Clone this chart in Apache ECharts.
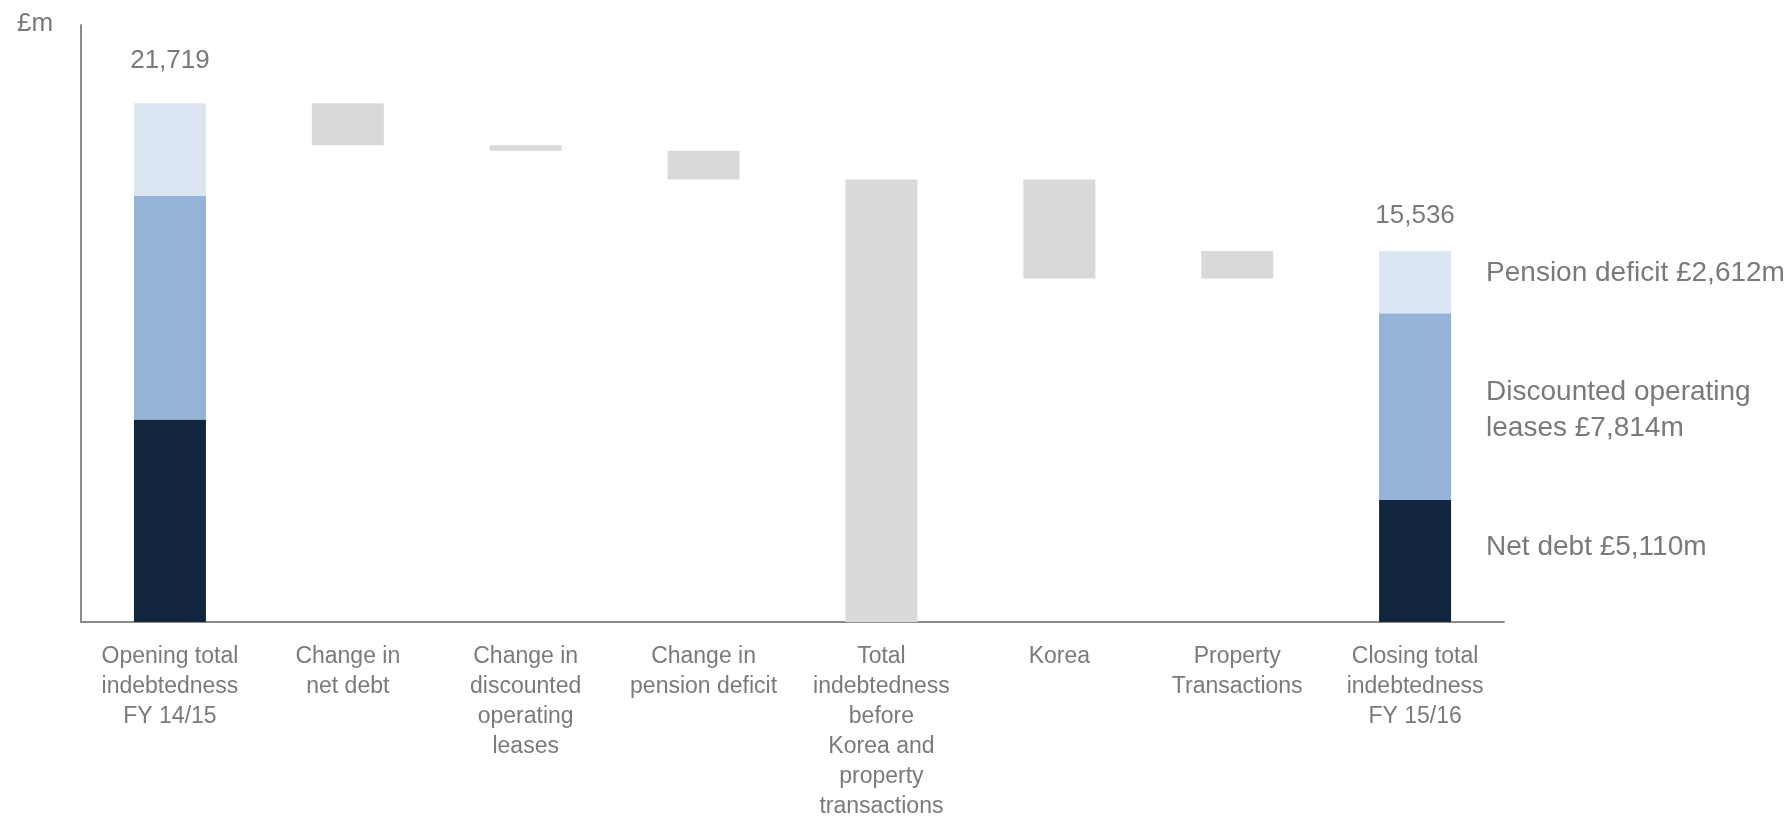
<!DOCTYPE html>
<html>
<head>
<meta charset="utf-8">
<title>Total indebtedness bridge</title>
<script src="https://cdn.jsdelivr.net/npm/echarts@6/dist/echarts.min.js"></script>
<style>
  html, body { margin: 0; padding: 0; background: #ffffff; }
  #chart { width: 1784px; height: 817px; }
</style>
</head>
<body>
<div id="chart"></div>
<script>
// Category labels along the x axis
const categories = [
  'Opening total\nindebtedness\nFY 14/15',
  'Change in\nnet debt',
  'Change in\ndiscounted\noperating\nleases',
  'Change in\npension deficit',
  'Total\nindebtedness\nbefore\nKorea and\nproperty\ntransactions',
  'Korea',
  'Property\nTransactions',
  'Closing total\nindebtedness\nFY 15/16'
];

// Components of the opening and closing totals (£m)
const netDebt = [8481, null, null, null, null, null, null, 5110];
const leases  = [9353, null, null, null, null, null, null, 7814];
const pension = [3885, null, null, null, null, null, null, 2612];

// Movements between the two totals (£m); 'subtotal' marks the running-total bar
const movements = [null, -1750, -230, -1209, 'subtotal', -4145, 1151, null];

// Labels for the closing components, shown beside the last bar
const componentNames = ['Pension deficit', 'Discounted operating\nleases', 'Net debt'];

const FONT = '"Liberation Sans", "Noto Sans", sans-serif';
const TEXT = '#7a7a7a';

// Build the invisible base and grey floating bars from the running total
const totals = categories.map((_, i) =>
  (netDebt[i] || 0) + (leases[i] || 0) + (pension[i] || 0));
const base = [];
const change = [];
let running = totals[0];
movements.forEach((m, i) => {
  if (m === null) { base.push(null); change.push(null); return; }
  if (m === 'subtotal') { base.push(0); change.push(running); return; }
  const next = running + m;
  base.push(Math.min(running, next));
  change.push(Math.abs(m));
  running = next;
});

const fmt = v => v.toLocaleString('en-GB');
const last = categories.length - 1;

const chart = echarts.init(document.getElementById('chart'), null, { renderer: 'canvas' });

// Component label placed to the right of its segment of the closing bar
function rightLabel(text, value, offsetY) {
  return {
    value: value,
    label: {
      show: true,
      position: ['100%', '50%'],
      offset: [35, offsetY],
      align: 'left',
      verticalAlign: 'middle',
      formatter: text + ' £' + fmt(value) + 'm',
      color: TEXT,
      fontFamily: FONT,
      fontSize: 28,
      lineHeight: 36
    }
  };
}

chart.setOption({
  animation: false,
  backgroundColor: '#ffffff',
  grid: {
    left: 81, right: 280, top: 25, bottom: 195,
    containLabel: false,
    outerBoundsMode: 'none'
  },
  xAxis: {
    type: 'category',
    data: categories,
    axisLine: { show: true, lineStyle: { color: '#8c8c8c', width: 2 } },
    axisTick: { show: false },
    axisLabel: {
      interval: 0,
      color: TEXT,
      fontFamily: FONT,
      fontSize: 23,
      lineHeight: 30,
      margin: 20
    }
  },
  yAxis: {
    type: 'value',
    min: 0,
    max: 25000,
    splitLine: { show: false },
    axisTick: { show: false },
    axisLabel: { show: false },
    axisLine: { show: true, lineStyle: { color: '#8c8c8c', width: 2 } }
  },
  graphic: [{
    type: 'text',
    left: 17,
    top: 11,
    style: { text: '£m', fill: TEXT, font: '26px ' + FONT }
  }],
  series: [
    {
      name: 'base', type: 'bar', stack: 'total', barWidth: 72,
      itemStyle: { color: 'rgba(0,0,0,0)' }, silent: true,
      data: base
    },
    {
      name: 'Net debt', type: 'bar', stack: 'total', barWidth: 72,
      itemStyle: { color: '#12253f' },
      data: netDebt.map((v, i) => i === last ? rightLabel(componentNames[2], v, -14) : v)
    },
    {
      name: 'Discounted operating leases', type: 'bar', stack: 'total', barWidth: 72,
      itemStyle: { color: '#95b3d7' },
      data: leases.map((v, i) => i === last ? rightLabel(componentNames[1], v, 4) : v)
    },
    {
      name: 'Pension deficit', type: 'bar', stack: 'total', barWidth: 72,
      itemStyle: { color: '#dce6f2' },
      data: pension.map((v, i) => i === last ? rightLabel(componentNames[0], v, -9) : v)
    },
    {
      name: 'Movement', type: 'bar', stack: 'total', barWidth: 72,
      itemStyle: { color: '#d9d9d9' },
      data: change
    },
    {
      // Total labels above the opening and closing bars
      name: 'Total', type: 'bar', stack: 'total', barWidth: 72,
      itemStyle: { color: 'rgba(0,0,0,0)' }, silent: true,
      label: {
        show: true, position: 'top',
        color: TEXT, fontFamily: FONT, fontSize: 26,
        formatter: p => fmt(totals[p.dataIndex])
      },
      data: categories.map((_, i) => {
        if (i === 0) return { value: 0.0001, label: { distance: 30 } };
        if (i === last) return { value: 0.0001, label: { distance: 22 } };
        return null;
      })
    }
  ]
});
</script>
</body>
</html>
